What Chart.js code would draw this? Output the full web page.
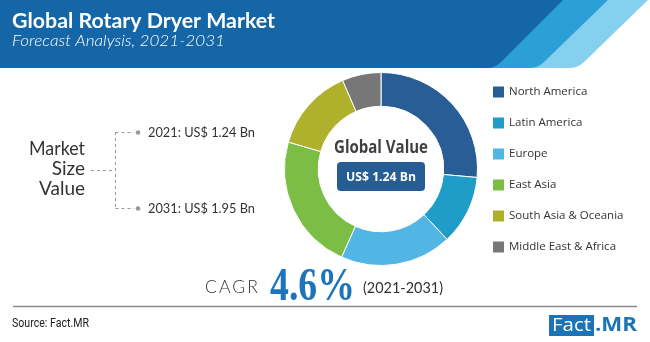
<!DOCTYPE html>
<html>
<head>
<meta charset="utf-8">
<script src="https://cdn.jsdelivr.net/npm/chart.js@4.4.1/dist/chart.umd.min.js"></script>
<style>
  html, body { margin: 0; padding: 0; background: #fff; }
  #wrap { width: 650px; height: 342px; }
</style>
</head>
<body>
<div id="wrap"><canvas id="chartCanvas" width="650" height="342"></canvas></div>
<script>
const regions = ["North America", "Latin America", "Europe", "East Asia", "South Asia & Oceania", "Middle East & Africa"];
const shares = [26.4, 11.6, 18.7, 22.8, 14.0, 6.5];
const regionColors = ["#285d95", "#1f9dc8", "#52b6e5", "#7cbd45", "#afb02b", "#777777"];
const sizeLabels = ["2021: US$ 1.24 Bn", "2031: US$ 1.95 Bn"];
const globalValue = "US$ 1.24 Bn";
const cagr = "4.6%";
const cagrPeriod = "(2021-2031)";

// draw text, optionally squeezed/stretched to a given width
function txt(ctx, s, x, y, font, color, align, w, base) {
  ctx.save();
  ctx.font = font;
  ctx.fillStyle = color;
  ctx.textBaseline = base || "middle";
  ctx.textAlign = "left";
  const m = ctx.measureText(s).width;
  const sx = w ? w / m : 1;
  const tw = m * sx;
  let left = x;
  if (align === "right") left = x - tw;
  if (align === "center") left = x - tw / 2;
  ctx.translate(left, y);
  ctx.scale(sx, 1);
  ctx.fillText(s, 0, 0);
  ctx.restore();
}

function stripe(ctx, xTop, xBot, color) {
  const r = 9;
  ctx.fillStyle = color;
  ctx.beginPath();
  ctx.moveTo(xTop, 0);
  ctx.lineTo(650, 0);
  ctx.lineTo(650, 68);
  ctx.lineTo(xBot - r, 68);
  ctx.quadraticCurveTo(xBot, 68, xBot + r * 0.7, 68 - r * 0.7);
  ctx.closePath();
  ctx.fill();
}

const decor = {
  id: "decor",
  beforeDraw(chart) {
    const ctx = chart.ctx;
    ctx.save();
    ctx.fillStyle = "#fff";
    ctx.fillRect(0, 0, 650, 342);
    // header band with slanted stripes
    ctx.fillStyle = "#1566a6";
    ctx.fillRect(0, 0, 650, 68);
    stripe(ctx, 563, 495, "#2c9fd6");
    stripe(ctx, 608, 538, "#86d0ef");
    stripe(ctx, 648, 578, "#ffffff");
    ctx.restore();

    txt(ctx, "Global Rotary Dryer Market", 12, 22, "bold 20px Lato", "#fff", "left", 263);
    txt(ctx, "Forecast Analysis, 2021-2031", 12, 41, "italic 300 16px Lato", "#fff", "left", 213);
  },
  afterDraw(chart) {
    const ctx = chart.ctx;
    const arc = chart.getDatasetMeta(0).data[0];
    const cx = arc.x, cy = arc.y;

    // centre label
    txt(ctx, "Global Value", cx, cy - 21, "bold 17px 'Open Sans'", "#404040", "center", 94);
    ctx.save();
    ctx.fillStyle = "#275d95";
    ctx.beginPath();
    ctx.roundRect(cx - 44, cy - 7, 88, 29, 4);
    ctx.fill();
    ctx.restore();
    txt(ctx, globalValue, cx, cy + 8, "bold 13px 'Open Sans'", "#fff", "center", 70);

    // market size block
    txt(ctx, "Market", 85, 149, "19px Lato", "#333", "right", 56);
    txt(ctx, "Size", 85, 169, "19px Lato", "#333", "right");
    txt(ctx, "Value", 85, 189, "19px Lato", "#333", "right");
    ctx.save();
    ctx.strokeStyle = "#999";
    ctx.lineWidth = 1;
    ctx.setLineDash([3, 3]);
    ctx.beginPath();
    ctx.moveTo(91, 170.5); ctx.lineTo(115.5, 170.5);
    ctx.moveTo(115.5, 132); ctx.lineTo(115.5, 208);
    ctx.moveTo(115.5, 132.5); ctx.lineTo(134, 132.5);
    ctx.moveTo(115.5, 208.5); ctx.lineTo(134, 208.5);
    ctx.stroke();
    ctx.setLineDash([]);
    ctx.fillStyle = "#999";
    [132.5, 208.5].forEach(y => { ctx.beginPath(); ctx.arc(138, y, 2.3, 0, Math.PI * 2); ctx.fill(); });
    ctx.restore();
    txt(ctx, sizeLabels[0], 148, 133, "13px Lato", "#333", "left", 107);
    txt(ctx, sizeLabels[1], 148, 209, "13px Lato", "#333", "left", 107);

    // legend
    regions.forEach((r, i) => {
      const y = 92 + i * 31;
      ctx.fillStyle = regionColors[i];
      ctx.fillRect(493, y - 5.5, 11, 11);
      txt(ctx, r, 509, y, "11.5px 'Open Sans'", "#333", "left");
    });

    // CAGR
    ctx.save();
    ctx.letterSpacing = "2px";
    txt(ctx, "CAGR", 205, 288, "300 17px Lato", "#333", "left", 55);
    ctx.restore();
    txt(ctx, cagr, 270, 300, "bold 46px 'Liberation Serif'", "#1c75bc", "left", 85, "alphabetic");
    txt(ctx, cagrPeriod, 363, 288, "16px Lato", "#333", "left", 80);

    // footer
    ctx.save();
    ctx.strokeStyle = "#8a8a8a";
    ctx.lineWidth = 1.5;
    ctx.beginPath();
    ctx.moveTo(13, 306.5); ctx.lineTo(637, 306.5);
    ctx.stroke();
    ctx.fillStyle = "#1a74b6";
    ctx.fillRect(549, 315, 45, 21);
    ctx.restore();
    txt(ctx, "Source: Fact.MR", 12, 324, "12px Roboto", "#222", "left", 77);
    txt(ctx, "Fact", 571.5, 326, "19px 'Open Sans'", "#fff", "center", 39);
    txt(ctx, ".MR", 595, 326, "bold 19px 'Open Sans'", "#1a74b6", "left", 42);
  }
};

const ctx = document.getElementById("chartCanvas").getContext("2d");
new Chart(ctx, {
  type: "doughnut",
  data: {
    labels: regions,
    datasets: [{
      data: shares,
      backgroundColor: regionColors,
      borderColor: "#ffffff",
      borderWidth: 1
    }]
  },
  options: {
    responsive: false,
    animation: false,
    devicePixelRatio: 1,
    cutout: "65%",
    layout: { padding: { left: 284, right: 172, top: 72, bottom: 76 } },
    plugins: { legend: { display: false }, tooltip: { enabled: false } }
  },
  plugins: [decor]
});
</script>
</body>
</html>
